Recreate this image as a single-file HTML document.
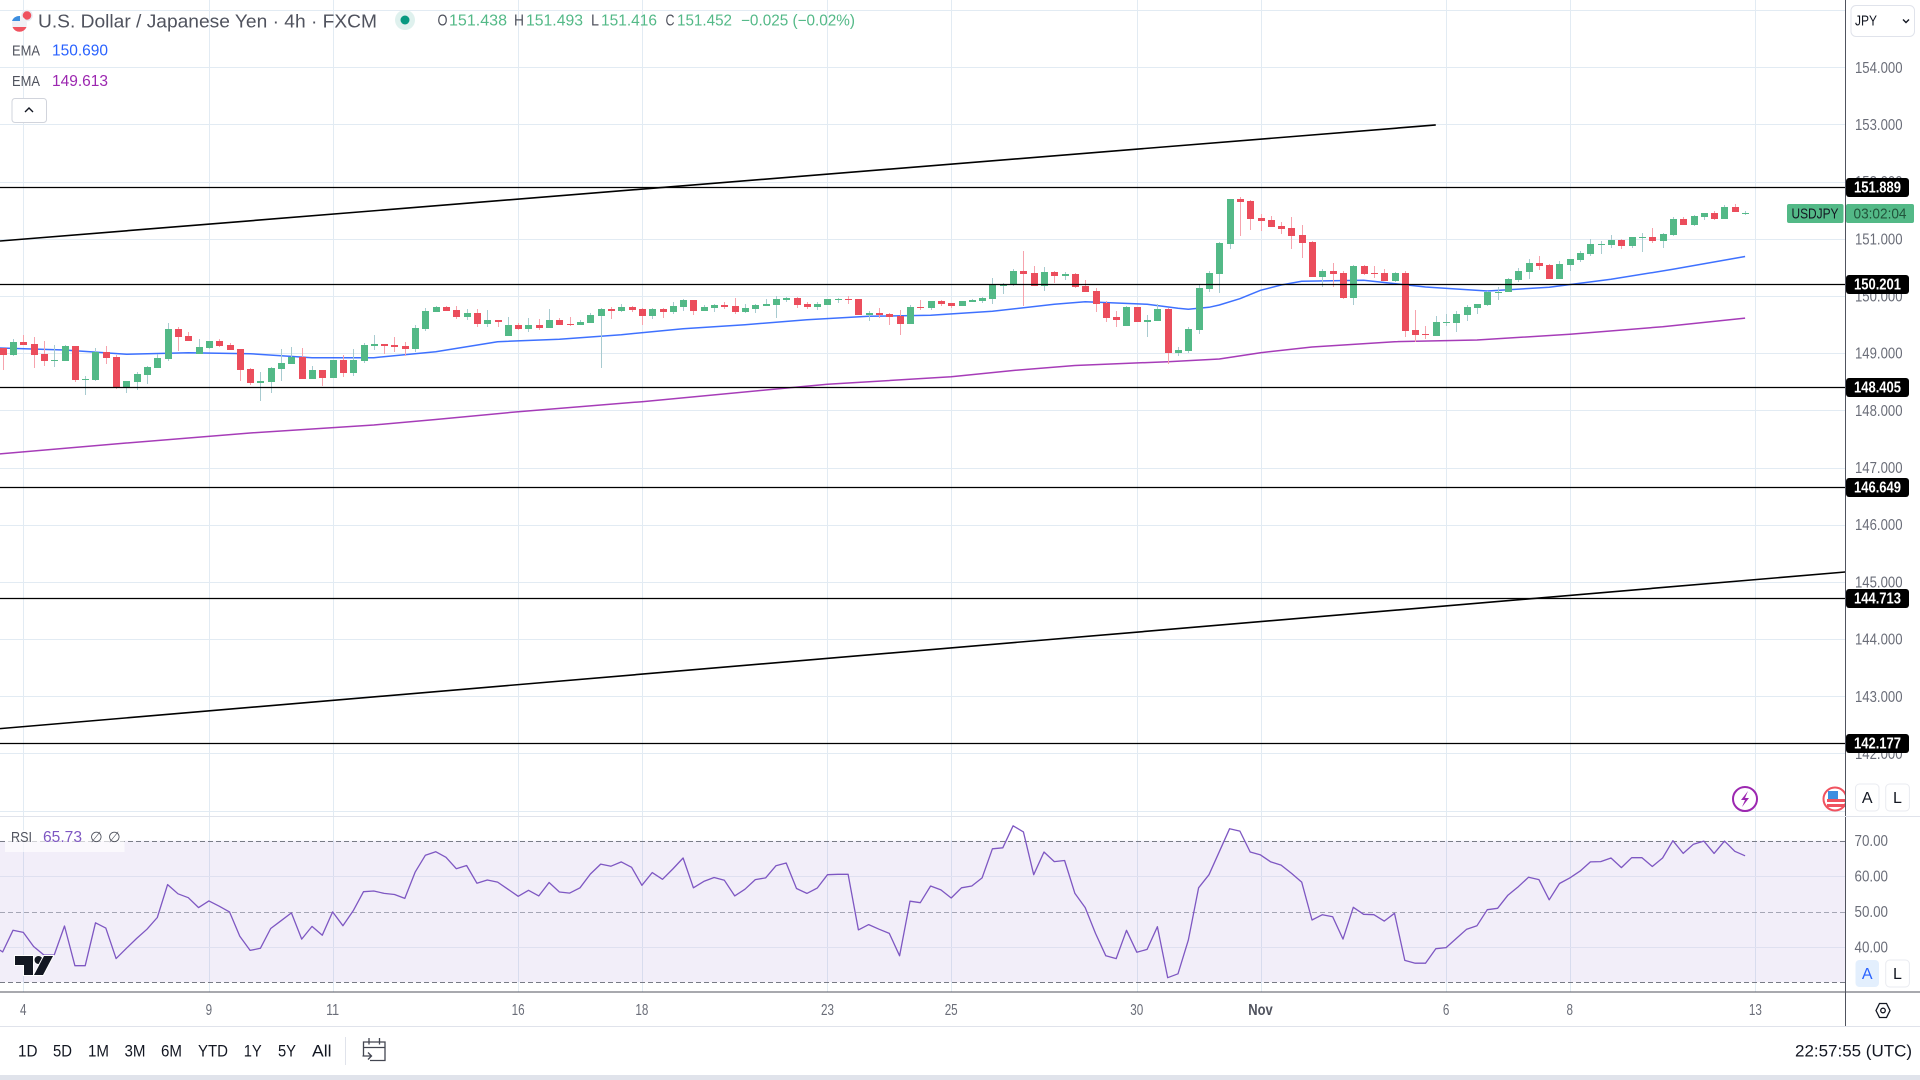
<!DOCTYPE html>
<html lang="en">
<head>
<meta charset="utf-8">
<title>USD/JPY 4h chart</title>
<style>
html,body{margin:0;padding:0;background:#fff;width:1920px;height:1080px;overflow:hidden}
svg{display:block}
text{font-family:"Liberation Sans",sans-serif}
</style>
</head>
<body>
<svg id="chart" xmlns="http://www.w3.org/2000/svg" width="1920" height="1080" viewBox="0 0 1920 1080">
  <rect x="0" y="0" width="1920" height="1080" fill="#ffffff"/>
  <g id="grid"></g>
  <g id="rsi-pane"></g>
  <g id="overlays"></g>
  <g id="candles"></g>
  <g id="drawings"></g>

  <g>
    <g>
      <circle cx="1745" cy="799" r="12" fill="#fff" stroke="#9c27b0" stroke-width="2"/>
      <polygon points="1748,791 1741,800 1745,800 1742,807 1749,798 1745,798" fill="#9c27b0"/>
    </g>
    <g>
      <circle cx="1835" cy="799" r="11.5" fill="#fff" stroke="#f0525f" stroke-width="2"/>
      <rect x="1827" y="799" width="18" height="3" fill="#f0525f"/>
      <rect x="1827" y="804" width="18" height="3" fill="#f0525f"/>
      <rect x="1828" y="791" width="10" height="8" fill="#3d8fe0"/>
    </g>
  </g>

  <rect x="1846" y="0" width="74" height="1026" fill="#ffffff"/>
  <rect x="0" y="1027" width="1920" height="48" fill="#ffffff"/>
  <line x1="0" y1="992" x2="1920" y2="992" stroke="#50535e" stroke-width="1"/>
  <line x1="1845.5" y1="0" x2="1845.5" y2="1026" stroke="#50535e" stroke-width="1"/>
  <line x1="0" y1="816.5" x2="1920" y2="816.5" stroke="#e0e3eb" stroke-width="1"/>
  <line x1="0" y1="1026.5" x2="1920" y2="1026.5" stroke="#e0e3eb" stroke-width="1"/>
  <rect x="0" y="1075" width="1920" height="5" fill="#e0e3eb"/>

  <g id="axis-labels"></g>
  <g id="tags"></g>

  <g>
    <rect x="1787" y="204" width="56.5" height="19" rx="2" fill="#53b987"/>
    <text x="1815" y="218.5" font-size="15" fill="#131722" text-anchor="middle" textLength="47" lengthAdjust="spacingAndGlyphs">USDJPY</text>
    <rect x="1846" y="204" width="68" height="19" rx="2" fill="#53b987"/>
    <text x="1880" y="218.5" font-size="15" fill="#21543b" text-anchor="middle" textLength="53" lengthAdjust="spacingAndGlyphs">03:02:04</text>
  </g>

  <g>
    <rect x="1851" y="5.5" width="63.5" height="31" rx="5" fill="#fff" stroke="#e0e3eb"/>
    <text x="1855" y="25.5" font-size="15" fill="#131722" textLength="22" lengthAdjust="spacingAndGlyphs">JPY</text>
    <path d="M1903 19.5l3 3 3-3" fill="none" stroke="#131722" stroke-width="1.4"/>
  </g>

  <g>
    <g>
      <circle cx="27" cy="15.5" r="5" fill="#f0525f" stroke="#e8e8f0" stroke-width="1.5"/>
      <circle cx="19.5" cy="24" r="7.5" fill="#f0f0f5"/>
      <path d="M12 21a7.5 7.5 0 0 1 8-5v5z" fill="#3d8fe0"/>
      <path d="M12.5 27h14a7.5 7.5 0 0 1-14 0z" fill="#f0525f"/>
    </g>
    <text x="38" y="27.5" font-size="18.5" fill="#50535e" textLength="339" lengthAdjust="spacingAndGlyphs">U.S. Dollar / Japanese Yen · 4h · FXCM</text>
    <circle cx="405" cy="20" r="10" fill="#dff1ee"/>
    <circle cx="405" cy="20" r="4.5" fill="#089981"/>
    <text x="437.5" y="25.5" font-size="15.5" fill="#50535e" textLength="10" lengthAdjust="spacingAndGlyphs">O</text>
    <text x="449" y="25.5" font-size="15.5" fill="#53b987" textLength="58" lengthAdjust="spacingAndGlyphs">151.438</text>
    <text x="514" y="25.5" font-size="15.5" fill="#50535e" textLength="10" lengthAdjust="spacingAndGlyphs">H</text>
    <text x="526" y="25.5" font-size="15.5" fill="#53b987" textLength="57" lengthAdjust="spacingAndGlyphs">151.493</text>
    <text x="591" y="25.5" font-size="15.5" fill="#50535e" textLength="8" lengthAdjust="spacingAndGlyphs">L</text>
    <text x="601" y="25.5" font-size="15.5" fill="#53b987" textLength="56" lengthAdjust="spacingAndGlyphs">151.416</text>
    <text x="665.5" y="25.5" font-size="15.5" fill="#50535e" textLength="9" lengthAdjust="spacingAndGlyphs">C</text>
    <text x="677" y="25.5" font-size="15.5" fill="#53b987" textLength="55" lengthAdjust="spacingAndGlyphs">151.452</text>
    <text x="741" y="25.5" font-size="15.5" fill="#53b987" textLength="114" lengthAdjust="spacingAndGlyphs">−0.025 (−0.02%)</text>

    <text x="12" y="55.5" font-size="15" fill="#50535e" textLength="28" lengthAdjust="spacingAndGlyphs">EMA</text>
    <text x="52" y="55.5" font-size="15.5" fill="#2962ff" textLength="56" lengthAdjust="spacingAndGlyphs">150.690</text>
    <text x="12" y="86" font-size="15" fill="#50535e" textLength="28" lengthAdjust="spacingAndGlyphs">EMA</text>
    <text x="52" y="86" font-size="15.5" fill="#9c27b0" textLength="56" lengthAdjust="spacingAndGlyphs">149.613</text>
    <g>
      <rect x="12" y="98.5" width="34.5" height="24" rx="3" fill="#fff" stroke="#d1d4dc"/>
      <path d="M25 112l4-4 4 4" fill="none" stroke="#131722" stroke-width="1.4"/>
    </g>
  </g>

  <g>
    <rect x="5" y="830" width="119.5" height="22" fill="#ffffff" opacity="0.65"/>
    <text x="11" y="842" font-size="15" fill="#50535e" textLength="21" lengthAdjust="spacingAndGlyphs">RSI</text>
    <text x="43" y="842" font-size="15.5" fill="#7e57c2" textLength="39" lengthAdjust="spacingAndGlyphs">65.73</text>
    <text x="90" y="842" font-size="14.5" fill="#50535e">∅</text>
    <text x="108" y="842" font-size="14.5" fill="#50535e">∅</text>
  </g>

  <g>
    <path d="M15 956H33V975H24V965H15Z" fill="#131722" stroke="#fff" stroke-width="2" paint-order="stroke"/>
    <circle cx="38.5" cy="960" r="4" fill="#131722" stroke="#fff" stroke-width="1.5" paint-order="stroke"/>
    <path d="M44 956H53L43 975H34Z" fill="#131722" stroke="#fff" stroke-width="2" paint-order="stroke"/>
  </g>

  <g>
    <g>
      <rect x="1855.5" y="784" width="23.5" height="27" rx="4" fill="#fff" stroke="#e9ebf0"/>
      <text x="1867.2" y="803" font-size="16" fill="#131722" text-anchor="middle">A</text>
    </g>
    <g>
      <rect x="1885.7" y="784" width="23.7" height="27" rx="4" fill="#fff" stroke="#e9ebf0"/>
      <text x="1897.5" y="803" font-size="16" fill="#131722" text-anchor="middle">L</text>
    </g>
  </g>
  <g>
    <g>
      <rect x="1855.5" y="960" width="23.5" height="27" rx="4" fill="#e3effd"/>
      <text x="1867.2" y="979" font-size="16" fill="#2962ff" text-anchor="middle">A</text>
    </g>
    <g>
      <rect x="1885.7" y="960" width="23.7" height="27" rx="4" fill="#fff" stroke="#e9ebf0"/>
      <text x="1897.5" y="979" font-size="16" fill="#131722" text-anchor="middle">L</text>
    </g>
  </g>
  <g>
    <path d="M1876 1010.5l3.5-7h7l3.5 7-3.5 7h-7z" fill="none" stroke="#131722" stroke-width="1.3"/>
    <circle cx="1883" cy="1010.5" r="2.3" fill="none" stroke="#131722" stroke-width="1.3"/>
  </g>

  <g>
    <text x="18" y="1056.5" font-size="17" fill="#131722" textLength="19.5" lengthAdjust="spacingAndGlyphs">1D</text>
    <text x="53" y="1056.5" font-size="17" fill="#131722" textLength="19" lengthAdjust="spacingAndGlyphs">5D</text>
    <text x="88" y="1056.5" font-size="17" fill="#131722" textLength="21" lengthAdjust="spacingAndGlyphs">1M</text>
    <text x="124.5" y="1056.5" font-size="17" fill="#131722" textLength="21" lengthAdjust="spacingAndGlyphs">3M</text>
    <text x="161" y="1056.5" font-size="17" fill="#131722" textLength="21" lengthAdjust="spacingAndGlyphs">6M</text>
    <text x="198" y="1056.5" font-size="17" fill="#131722" textLength="30" lengthAdjust="spacingAndGlyphs">YTD</text>
    <text x="243.7" y="1056.5" font-size="17" fill="#131722" textLength="18" lengthAdjust="spacingAndGlyphs">1Y</text>
    <text x="278" y="1056.5" font-size="17" fill="#131722" textLength="18" lengthAdjust="spacingAndGlyphs">5Y</text>
    <text x="312" y="1056.5" font-size="17" fill="#131722" textLength="19.5" lengthAdjust="spacingAndGlyphs">All</text>
    <line x1="345.5" y1="1037" x2="345.5" y2="1065" stroke="#e0e3eb"/>
    <g fill="none" stroke="#434651" stroke-width="1.3">
      <path d="M370 1060.5h15v-18.5h-21.5v14"/>
      <path d="M363 1047.5h22M369 1038v6.5M379.5 1038v6.5"/>
      <path d="M362.5 1056h9M368 1052.5l3.5 3.5-3.5 3.5"/>
    </g>
    <text x="1795" y="1056.5" font-size="17" fill="#131722" textLength="117" lengthAdjust="spacingAndGlyphs">22:57:55 (UTC)</text>
  </g>
</svg>

<script>
// ---- Candle data (bar -2 through bar 167) ----
const opens = [
149.096,148.968,149.195,149.160,148.985,148.863,148.863,149.125,148.531,148.531,
149.020,148.933,148.391,148.496,148.618,148.741,148.898,149.423,149.300,148.985,
149.090,149.213,149.143,149.073,148.723,148.478,148.496,148.723,148.811,148.933,
148.548,148.706,148.566,148.881,148.653,148.863,149.125,149.160,149.143,149.125,
149.073,149.423,149.720,149.808,149.755,149.633,149.703,149.510,149.580,149.301,
149.493,149.423,149.493,149.440,149.580,149.510,149.493,149.528,149.650,149.773,
149.738,149.808,149.773,149.650,149.773,149.720,149.808,149.930,149.738,149.790,
149.843,149.825,149.720,149.773,149.825,149.843,149.930,149.965,149.860,149.808,
149.843,149.930,149.948,149.948,149.668,149.703,149.685,149.650,149.510,149.808,
149.790,149.913,149.878,149.825,149.895,149.913,149.948,150.175,150.192,150.437,
150.402,150.175,150.420,150.350,150.385,150.175,150.087,149.878,149.633,149.475,
149.808,149.545,149.563,149.773,149.003,149.038,149.405,150.122,150.385,150.910,
151.697,151.662,151.364,151.329,151.224,151.189,151.067,150.945,150.332,150.437,
150.402,149.965,150.525,150.402,150.402,150.262,150.402,149.405,149.336,149.301,
149.528,149.528,149.668,149.790,149.843,150.052,150.070,150.280,150.420,150.577,
150.542,150.297,150.542,150.630,150.735,150.892,150.892,150.980,150.875,151.015,
151.032,150.962,151.067,151.347,151.242,151.382,151.452,151.347,151.557,151.438];
const highs = [
149.096,149.248,149.318,149.283,149.213,149.143,149.143,149.125,148.601,149.090,
149.125,148.968,148.513,148.671,148.776,148.985,149.528,149.458,149.370,149.248,
149.213,149.248,149.178,149.073,148.741,148.671,148.758,149.073,149.108,149.090,
148.776,148.706,148.881,148.968,149.073,149.178,149.318,149.160,149.283,149.195,
149.493,149.790,149.825,149.825,149.825,149.773,149.773,149.755,149.580,149.633,
149.528,149.615,149.598,149.773,149.615,149.633,149.580,149.703,149.790,149.808,
149.860,149.825,149.790,149.790,149.790,149.895,149.948,149.930,149.843,149.860,
149.895,149.965,149.860,149.860,149.948,150.000,149.983,149.983,149.895,149.895,
149.948,149.965,150.000,149.948,149.738,149.790,149.703,149.755,149.843,149.930,
149.913,149.930,149.878,149.913,149.948,149.983,150.315,150.227,150.472,150.787,
150.525,150.507,150.437,150.420,150.402,150.280,150.140,149.913,149.738,149.825,
149.808,149.668,149.860,149.790,149.108,149.458,150.192,150.437,150.945,151.697,
151.732,151.679,151.434,151.399,151.294,151.382,151.242,150.962,150.472,150.577,
150.437,150.542,150.542,150.525,150.472,150.420,150.437,149.755,149.475,149.650,
149.685,149.738,149.843,149.860,150.087,150.157,150.315,150.490,150.647,150.700,
150.560,150.612,150.647,150.787,150.997,150.962,151.067,150.997,151.032,151.102,
151.189,151.102,151.382,151.382,151.417,151.452,151.487,151.592,151.609,151.493];
const lows = [
148.706,148.950,149.143,148.741,148.776,148.758,148.863,148.496,148.268,148.513,
148.811,148.373,148.303,148.356,148.461,148.741,148.863,149.038,149.213,148.985,
149.073,149.108,149.055,148.513,148.443,148.163,148.303,148.513,148.811,148.548,
148.548,148.426,148.566,148.583,148.601,148.828,149.055,148.985,149.020,148.950,
149.020,149.388,149.720,149.738,149.598,149.580,149.458,149.458,149.458,149.301,
149.406,149.371,149.406,149.440,149.493,149.476,149.493,149.528,148.741,149.598,
149.720,149.720,149.493,149.598,149.615,149.685,149.738,149.668,149.738,149.720,
149.773,149.685,149.703,149.703,149.825,149.615,149.895,149.790,149.773,149.755,
149.843,149.878,149.860,149.668,149.563,149.615,149.493,149.318,149.510,149.755,
149.755,149.825,149.790,149.825,149.895,149.878,149.860,150.035,150.175,149.825,
150.175,150.087,150.227,150.280,150.140,150.070,149.720,149.545,149.458,149.475,
149.545,149.283,149.563,148.811,148.951,149.003,149.336,150.070,150.052,150.822,
151.050,151.154,151.137,151.207,151.084,150.822,150.665,150.332,150.157,150.157,
149.948,149.843,150.367,150.315,150.262,150.245,149.283,149.196,149.248,149.301,
149.475,149.371,149.563,149.685,149.825,149.930,150.070,150.245,150.297,150.455,
150.297,150.297,150.437,150.595,150.700,150.735,150.840,150.822,150.840,150.770,
150.927,150.840,151.050,151.242,151.224,151.329,151.329,151.347,151.469,151.416];
const closes = [
148.968,149.195,149.143,148.968,148.863,148.881,149.125,148.531,148.548,149.020,
148.916,148.391,148.513,148.636,148.758,148.916,149.423,149.283,149.213,149.108,
149.213,149.125,149.055,148.706,148.478,148.513,148.741,148.828,148.933,148.548,
148.706,148.566,148.881,148.653,148.881,149.143,149.160,149.125,149.108,149.073,
149.440,149.738,149.808,149.738,149.633,149.703,149.510,149.580,149.545,149.493,
149.423,149.493,149.440,149.580,149.493,149.493,149.545,149.668,149.773,149.738,
149.808,149.755,149.650,149.773,149.720,149.825,149.930,149.738,149.808,149.843,
149.808,149.720,149.790,149.843,149.860,149.948,149.965,149.843,149.808,149.860,
149.948,149.948,149.930,149.668,149.703,149.668,149.633,149.510,149.808,149.790,
149.913,149.860,149.825,149.913,149.930,149.965,150.192,150.210,150.437,150.385,
150.175,150.420,150.350,150.385,150.157,150.070,149.860,149.615,149.580,149.808,
149.545,149.580,149.773,149.003,149.056,149.423,150.140,150.402,150.927,151.697,
151.644,151.347,151.312,151.207,151.172,151.050,150.927,150.332,150.437,150.385,
149.965,150.525,150.385,150.385,150.262,150.402,149.388,149.318,149.318,149.545,
149.545,149.685,149.808,149.860,150.070,150.070,150.297,150.437,150.577,150.525,
150.297,150.560,150.647,150.752,150.910,150.910,150.980,150.875,151.032,151.032,
150.962,151.084,151.347,151.242,151.399,151.452,151.347,151.557,151.469,151.452];

// ---- EMA readings: bar number and value at that bar ----
const emaFastBars = [-3,4,10,16,22,28,34,40,46,52,58,64,70,76,82,88,94,100,103,106,109,112,113,115,116,118,120,122,124,130,136,142,148,154,160,167];
const emaFastValues = [149.096,149.056,148.980,149.008,148.991,148.921,148.921,149.026,149.201,149.243,149.323,149.428,149.498,149.586,149.645,149.662,149.732,149.855,149.900,149.878,149.855,149.785,149.767,149.802,149.843,149.953,150.100,150.192,150.257,150.275,150.157,150.087,150.152,150.292,150.467,150.690];
const emaSlowBars = [-3,10,22,34,40,48,60,72,78,90,96,102,111,116,120,125,133,141,150,159,167];
const emaSlowValues = [147.228,147.429,147.604,147.744,147.840,147.977,148.151,148.356,148.456,148.589,148.697,148.785,148.851,148.898,149.008,149.108,149.201,149.231,149.330,149.463,149.613];

// ---- RSI per bar (bar -3 through bar 167) ----
const rsiValues = [
40.4,38.6,44.7,44.1,40.1,37.7,37.7,45.9,34.7,34.7,46.8,
45.3,36.7,39.6,42.4,45.0,48.3,57.6,55.0,53.9,51.1,
53.0,51.5,49.9,43.0,39.0,39.6,45.2,47.4,49.6,42.2,
45.8,43.3,49.9,46.0,50.2,55.6,55.8,55.1,54.8,53.7,
61.1,65.9,66.9,65.3,62.1,63.0,58.0,58.9,58.3,56.3,
54.3,56.0,54.4,58.2,55.5,55.2,56.7,60.6,63.4,62.8,
64.0,62.5,57.4,61.0,59.1,62.0,65.1,56.7,58.5,59.6,
58.8,54.4,56.3,59.0,59.5,62.9,63.7,56.5,55.1,56.6,
60.4,60.5,60.5,44.8,46.3,45.0,43.8,37.5,52.9,52.5,
57.2,56.1,53.8,56.7,57.2,59.5,67.7,68.0,74.2,72.5,
60.4,66.8,64.1,64.4,55.1,51.1,43.8,37.5,36.7,44.7,
38.5,39.3,45.7,31.3,32.4,41.9,56.7,60.4,66.9,73.4,
72.7,66.8,66.0,64.0,63.1,60.8,58.3,47.6,49.1,48.5,
42.2,51.2,49.2,49.1,47.3,49.5,36.2,35.4,35.4,39.5,
39.8,42.4,45.0,46.0,50.5,50.9,54.6,57.0,59.7,59.0,
53.3,57.9,59.5,61.4,64.0,64.1,65.1,62.4,65.2,65.2,
62.7,65.1,70.0,66.4,69.0,69.9,66.4,69.9,67.0,65.73];

// ---- Levels, trend lines, ticks ----
const levelPrices = [151.889,150.201,148.405,146.649,144.713,142.177];
const upperTrendBars = [-2.26,137.0];
const upperTrendPrices = [150.962,152.991];
const lowerTrendBars = [-2.26,176.7];
const lowerTrendPrices = [142.434,145.173];
const priceGridTicks = [155,154,153,152,151,150,149,148,147,146,145,144,143,142,141];
const priceTickLabels = ["154.000","153.000","152.000","151.000","150.000","149.000","148.000","147.000","146.000","145.000","144.000","143.000","142.000"];
const rsiTickLabels = ["70.00","60.00","50.00","40.00"];
const timeTickBars = [0,18,30,48,60,78,90,108,120,138,150,168];
const timeTickLabels = ["4","9","11","16","18","23","25","30","Nov","6","8","13"];
const firstBar = -2;
const rsiFirstBar = -3;

// ---- Axis functions ----
function xBar(b){ return 23.3 + b * 10.31; }
function yPrice(p){ return 296 + (150 - p) * 57.18; }
function yRsi(r){ return 840.7 + (70 - r) * 3.54; }

const NS = 'http://www.w3.org/2000/svg';
function make(parent, tag, attrs){
  const el = document.createElementNS(NS, tag);
  for (const k in attrs) el.setAttribute(k, attrs[k]);
  parent.appendChild(el);
  return el;
}
const gridG = document.getElementById('grid');
const rsiG = document.getElementById('rsi-pane');
const overlayG = document.getElementById('overlays');
const candleG = document.getElementById('candles');
const drawG = document.getElementById('drawings');
const labelG = document.getElementById('axis-labels');
const tagG = document.getElementById('tags');

// Grid
priceGridTicks.forEach(function(p){
  const y = Math.round(yPrice(p)) + 0.5;
  const el = make(gridG, 'line', {x1:0, x2:1845, y1:y, y2:y, stroke:'#e2ebf3', 'stroke-width':1});
  
  
});
timeTickBars.forEach(function(b){
  const x = Math.round(xBar(b)) + 0.5;
  const el = make(gridG, 'line', {x1:x, x2:x, y1:0, y2:992, stroke:'#e2ebf3', 'stroke-width':1});
  
  
});

// RSI pane
const rsiBand = make(rsiG, 'rect', {x:0, y:yRsi(70), width:1845, height:yRsi(30)-yRsi(70), fill:'#7e57c2', 'fill-opacity':0.1});


[60,40].forEach(function(r){
  const y = Math.round(yRsi(r)) + 0.5;
  const el = make(rsiG, 'line', {x1:0, x2:1845, y1:y, y2:y, stroke:'#dfe0f0', 'stroke-width':1});
  
  
});
[[70,'#787b86'],[50,'#a5a6b5'],[30,'#787b86']].forEach(function(d){
  const y = Math.round(yRsi(d[0])) + 0.5;
  const el = make(rsiG, 'line', {x1:0, x2:1845, y1:y, y2:y, stroke:d[1], 'stroke-width':1, 'stroke-dasharray':'5 3'});
  
  
});
const rsiPts = rsiValues.map(function(r, i){ return xBar(i + rsiFirstBar).toFixed(1) + ',' + yRsi(r).toFixed(1); }).join(' ');
const rsiLine = make(rsiG, 'polyline', {points:rsiPts, fill:'none', stroke:'#7e57c2', 'stroke-width':1.3, 'stroke-linejoin':'round'});



// EMAs
const fastPts = emaFastValues.map(function(v, i){ return xBar(emaFastBars[i]).toFixed(1) + ',' + yPrice(v).toFixed(1); }).join(' ');
const fastLine = make(overlayG, 'polyline', {points:fastPts, fill:'none', stroke:'#2962ff', 'stroke-width':1.5, 'stroke-linejoin':'round', 'stroke-opacity':0.9});


const slowPts = emaSlowValues.map(function(v, i){ return xBar(emaSlowBars[i]).toFixed(1) + ',' + yPrice(v).toFixed(1); }).join(' ');
const slowLine = make(overlayG, 'polyline', {points:slowPts, fill:'none', stroke:'#9c27b0', 'stroke-width':1.5, 'stroke-linejoin':'round', 'stroke-opacity':0.9});



// Candles
opens.forEach(function(o, i){
  const c = closes[i];
  const up = c >= o;
  const cx = Math.round(xBar(i + firstBar));
  const yHigh = Math.round(yPrice(highs[i]));
  const yLow = Math.round(yPrice(lows[i]));
  const yTop = Math.round(yPrice(Math.max(o, c)));
  const yBot = Math.round(yPrice(Math.min(o, c)));
  const wick = make(candleG, 'rect', {x:cx, y:yHigh, width:1, height:Math.max(1, yLow - yHigh), fill:up ? '#a8cbd0' : '#f6a3ad', 'shape-rendering':'crispEdges'});
  
  
  const body = make(candleG, 'rect', {x:cx - 3, y:yTop, width:7, height:Math.max(1, yBot - yTop), fill:up ? '#53b987' : '#eb4d5c', 'shape-rendering':'crispEdges'});
  
  
});

// Horizontal levels
levelPrices.forEach(function(p){
  const y = Math.floor(yPrice(p)) + 0.5;
  const el = make(drawG, 'line', {x1:0, x2:1845, y1:y, y2:y, stroke:'#000000', 'stroke-width':1.2});
  
  
});
// Trend lines
const upper = make(drawG, 'line', {x1:xBar(upperTrendBars[0]), x2:xBar(upperTrendBars[1]), y1:yPrice(upperTrendPrices[0]), y2:yPrice(upperTrendPrices[1]), stroke:'#000000', 'stroke-width':1.6});


const lower = make(drawG, 'line', {x1:xBar(lowerTrendBars[0]), x2:xBar(lowerTrendBars[1]), y1:yPrice(lowerTrendPrices[0]), y2:yPrice(lowerTrendPrices[1]), stroke:'#000000', 'stroke-width':1.6});



// Axis labels
priceTickLabels.forEach(function(label){
  const t = make(labelG, 'text', {x:1855, y:yPrice(parseFloat(label)) + 5.5, 'font-size':15.5, fill:'#6a6d78', textLength:47.5, lengthAdjust:'spacingAndGlyphs'});
  t.textContent = label;
  
  
});
rsiTickLabels.forEach(function(label){
  const t = make(labelG, 'text', {x:1854.5, y:yRsi(parseFloat(label)) + 5.5, 'font-size':15.5, fill:'#6a6d78', textLength:33.5, lengthAdjust:'spacingAndGlyphs'});
  t.textContent = label;
  
  
});
timeTickLabels.forEach(function(label, i){
  const t = make(labelG, 'text', {x:xBar(timeTickBars[i]), y:1015, 'font-size':15.5, fill:label === 'Nov' ? '#50535e' : '#6a6d78', 'font-weight':label === 'Nov' ? 'bold' : 'normal', 'text-anchor':'middle', textLength:label === 'Nov' ? 24.5 : label.length * 6.5, lengthAdjust:'spacingAndGlyphs'});
  t.textContent = label;
  
  
});

// Level price tags
levelPrices.forEach(function(p){
  const y = Math.floor(yPrice(p));
  const box = make(tagG, 'rect', {x:1846, y:y - 9, width:63, height:19, rx:3, fill:'#000000'});
  
  
  const t = make(tagG, 'text', {x:1877.5, y:y + 5.5, 'font-size':15.5, 'font-weight':'bold', fill:'#ffffff', 'text-anchor':'middle', textLength:47, lengthAdjust:'spacingAndGlyphs'});
  t.textContent = p.toFixed(3);
  
  
});
</script>
</body>
</html>
